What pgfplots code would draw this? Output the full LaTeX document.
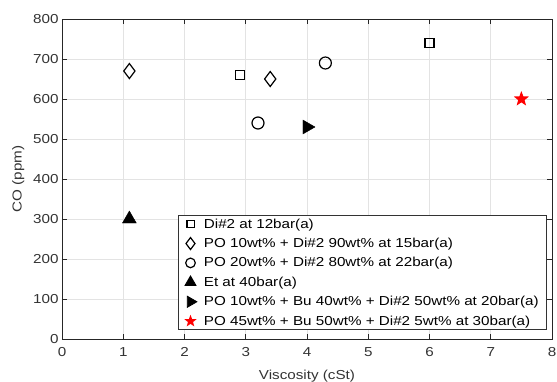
\documentclass[border=0pt]{standalone}
\usepackage{fontspec}
\setmainfont{Liberation Sans}[FakeStretch=1.17]
\usepackage{pgfplots}
\pgfplotsset{compat=1.18}
\pgfdeclareplotmark{fstar}{%
  \pgfpathmoveto{\pgfqpointpolar{90}{\pgfplotmarksize}}%
  \pgfpathlineto{\pgfqpointpolar{126}{0.42\pgfplotmarksize}}%
  \pgfpathlineto{\pgfqpointpolar{162}{\pgfplotmarksize}}%
  \pgfpathlineto{\pgfqpointpolar{198}{0.42\pgfplotmarksize}}%
  \pgfpathlineto{\pgfqpointpolar{234}{\pgfplotmarksize}}%
  \pgfpathlineto{\pgfqpointpolar{270}{0.42\pgfplotmarksize}}%
  \pgfpathlineto{\pgfqpointpolar{306}{\pgfplotmarksize}}%
  \pgfpathlineto{\pgfqpointpolar{342}{0.42\pgfplotmarksize}}%
  \pgfpathlineto{\pgfqpointpolar{18}{\pgfplotmarksize}}%
  \pgfpathlineto{\pgfqpointpolar{54}{0.42\pgfplotmarksize}}%
  \pgfpathclose
  \pgfusepathqfill
}
\begin{document}
\begin{tikzpicture}
\begin{axis}[
  at={(0pt,0pt)}, anchor=south west,
  scale only axis, width=490pt, height=320pt,
  xmin=0, xmax=8, ymin=0, ymax=800,
  xtick={0,1,...,8}, ytick={0,100,...,800},
  grid=major, major grid style={gray!22, line width=0.6pt},
  tick align=inside, major tick length=5pt,
  axis line style={line width=0.8pt, black!85},
  tick style={black!85, line width=0.7pt},
  /pgf/number format/assume math mode=true,
  ticklabel style={font=\fontsize{13}{15}\selectfont, text=black!80},
  xticklabel style={yshift=-5pt},
  xlabel={Viscosity (cSt)}, ylabel={CO (ppm)},
  label style={font=\fontsize{13}{15}\selectfont, text=black!80},
  xlabel style={yshift=-6pt}, ylabel style={yshift=2pt},
  legend cell align=left,
  legend image post style={scale=0.8},
  legend style={at={(0.99,0.028)}, anchor=south east, font=\fontsize{13}{15}\selectfont,
    draw=black!80, line width=0.8pt, inner xsep=6pt, inner ysep=1pt, row sep=4.5pt,
    /tikz/every odd column/.append style={column sep=5pt}},
  clip=false,
]
\addplot[only marks, mark=square, mark size=4.5pt, line width=1.2pt, black] coordinates {(2.9,660) (6,740)};
\addlegendentry{Di\#2 at 12bar(a)}
\addplot[only marks, mark=diamond, mark size=7.5pt, line width=1.2pt, black] coordinates {(1.1,670) (3.4,650)};
\addlegendentry{PO 10wt\% + Di\#2 90wt\% at 15bar(a)}
\addplot[only marks, mark=o, mark size=6pt, line width=1.2pt, black] coordinates {(3.2,540) (4.3,690)};
\addlegendentry{PO 20wt\% + Di\#2 80wt\% at 22bar(a)}
\addplot[only marks, mark=triangle*, mark size=8pt, black] coordinates {(1.1,300)};
\addlegendentry{Et at 40bar(a)}
\addplot[only marks, mark=triangle*, mark size=8pt, black, mark options={rotate=-90}] coordinates {(4.0,530)};
\addlegendentry{PO 10wt\% + Bu 40wt\% + Di\#2 50wt\% at 20bar(a)}
\addplot[only marks, mark=fstar, mark size=8pt, red] coordinates {(7.5,600)};
\addlegendentry{PO 45wt\% + Bu 50wt\% + Di\#2 5wt\% at 30bar(a)}
\end{axis}
\pgfresetboundingbox
\path (-62pt,-42pt) rectangle (495pt,339pt);
\end{tikzpicture}
\end{document}
